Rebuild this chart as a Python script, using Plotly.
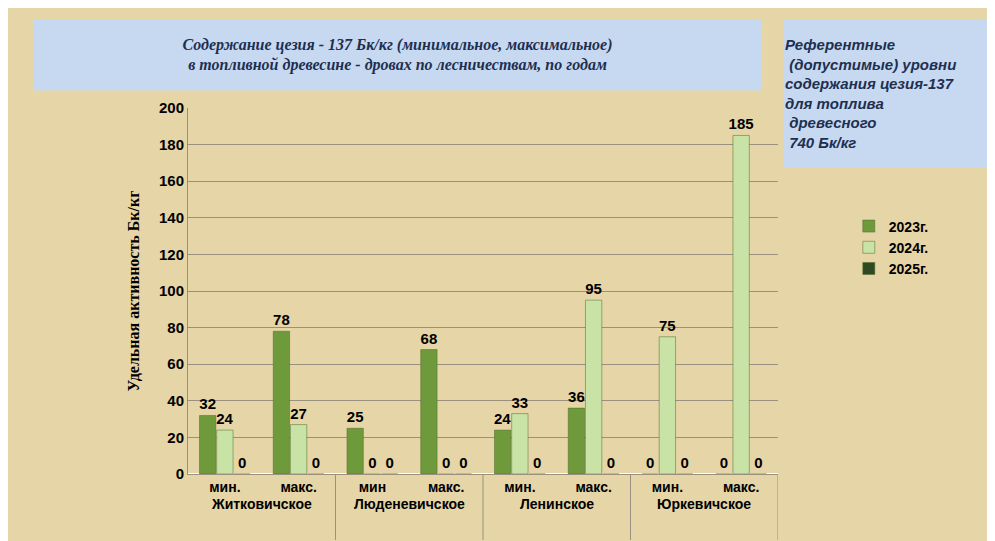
import plotly.graph_objects as go

# Data
forestries = ["Житковичское", "Люденевичское", "Ленинское", "Юркевичское"]
kinds = ["мин.", "макс.", "мин", "макс.", "мин.", "макс.", "мин.", "макс."]
y2023 = [32, 78, 25, 68, 24, 36, 0, 0]
y2024 = [24, 27, 0, 0, 33, 95, 75, 185]
y2025 = [0, 0, 0, 0, 0, 0, 0, 0]

positions = list(range(len(kinds)))

series = [("2023г.", y2023, "#6f9a3c"),
          ("2024г.", y2024, "#c9e3a6"),
          ("2025г.", y2025, "#2f4a22")]

fig = go.Figure()
for name, vals, color in series:
    fig.add_trace(go.Bar(
        x=positions, y=vals, name="<b>" + name + "</b>",
        marker=dict(color=color, line=dict(color="#4a6a2a", width=0.5)),
        text=vals, texttemplate="<b>%{y}</b>", textposition="outside",
        cliponaxis=False, constraintext="none",
        textfont=dict(family="Arial", size=15, color="black"),
    ))

fig.update_layout(
    width=995, height=541,
    paper_bgcolor="#e6d5a6", plot_bgcolor="rgba(0,0,0,0)",
    margin=dict(l=180, r=225, t=100, b=75),
    barmode="group", bargap=0.3, bargroupgap=0.05,
    font=dict(family="Arial", size=14, color="black"),
    legend=dict(x=1.12, y=0.72, xanchor="left", yanchor="top",
                bgcolor="rgba(0,0,0,0)", font=dict(size=14, family="Arial")),
    yaxis=dict(range=[0, 200], dtick=20, showgrid=True, gridcolor="#9a9080",
               showline=True, linecolor="#9a9080",
               tickprefix="<b>", ticksuffix="</b>",
               tickfont=dict(size=15, family="Arial"),
               title=dict(text="<b>Удельная активность Бк/кг</b>",
                          font=dict(family="Times New Roman", size=16))),
    xaxis=dict(showline=True, linecolor="#9a9080", tickmode="array",
               tickvals=positions, ticktext=["<b>" + k + "</b>" for k in kinds],
               range=[-0.5, 7.5], tickfont=dict(size=14, family="Arial")),
)

for i, f in enumerate(forestries):
    fig.add_annotation(x=2 * i + 0.5, y=-0.11, xref="x", yref="paper",
                       text="<b>" + f + "</b>", showarrow=False,
                       font=dict(size=14, family="Arial"))
    fig.add_shape(type="line", xref="x", yref="paper", x0=2 * i + 1.5, x1=2 * i + 1.5,
                  y0=0, y1=-0.18, line=dict(color="#9a9080", width=1))

fig.add_annotation(
    xref="paper", yref="paper", x=-0.263, y=1.243, xanchor="left", yanchor="top",
    text="<i><b>Содержание цезия - 137 Бк/кг (минимальное, максимальное)<br>"
         "в топливной древесине - дровах по лесничествам, по годам</b></i>",
    showarrow=False, align="center", bgcolor="#c6d9f0", width=725, height=68,
    font=dict(family="Times New Roman", size=16, color="#1f2f50"),
)
fig.add_annotation(
    xref="paper", yref="paper", x=1.008, y=1.243, xanchor="left", yanchor="top",
    text="<i><b>Референтные<br>&nbsp;(допустимые) уровни<br>содержания цезия-137<br>"
         "для топлива<br>&nbsp;древесного<br>&nbsp;740 Бк/кг</b></i>",
    showarrow=False, align="left", bgcolor="#c6d9f0", width=210, height=145,
    font=dict(family="Arial", size=15, color="#1f2f50"),
)

fig.write_html("out.html")
